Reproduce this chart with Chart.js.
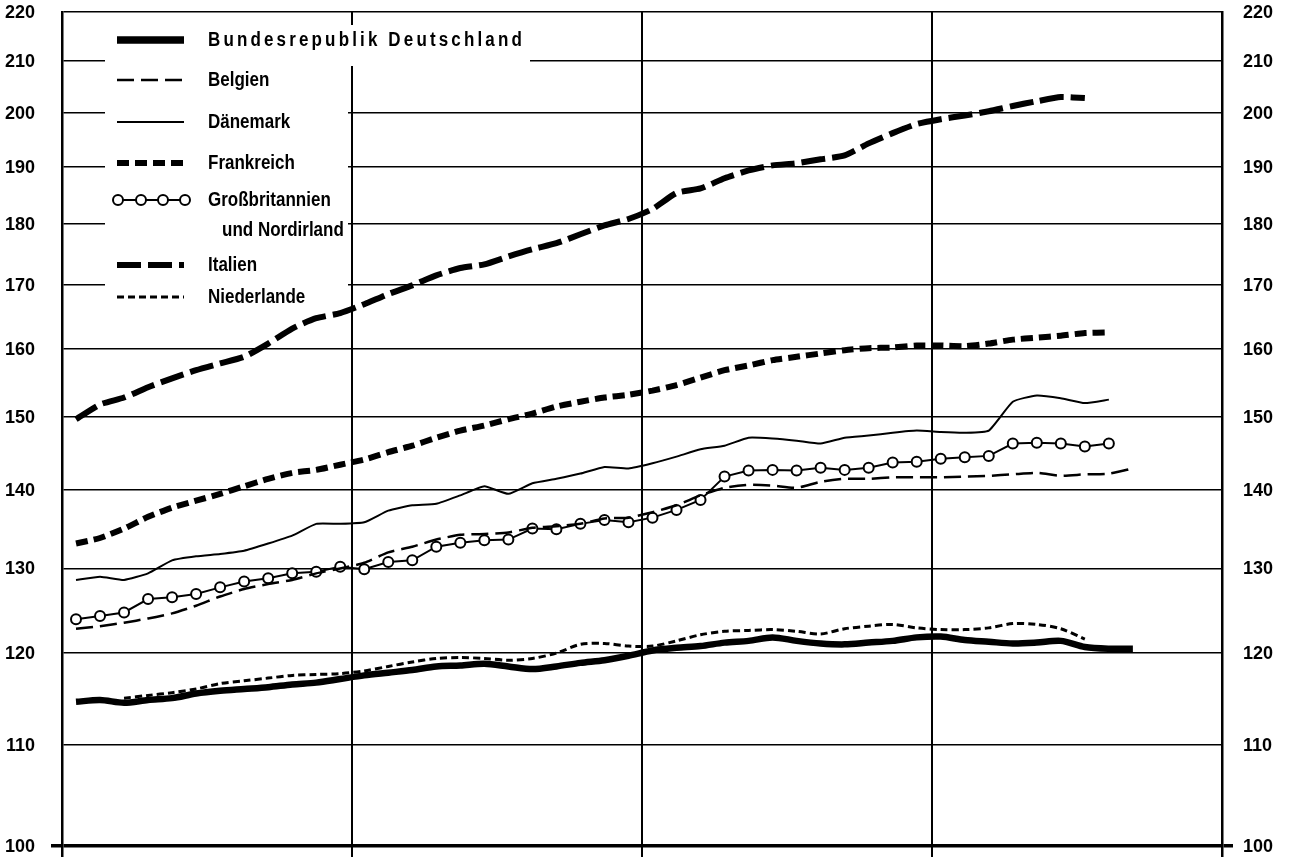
<!DOCTYPE html>
<html>
<head>
<meta charset="utf-8">
<script src="https://cdn.jsdelivr.net/npm/chart.js@4/dist/chart.umd.min.js"></script>
<style>
  html, body { margin: 0; padding: 0; background: #fff; overflow: hidden; }
  #wrap { width: 1289px; height: 865px; position: relative; }
</style>
</head>
<body>
<div id="wrap"><canvas id="c"></canvas></div>
<script>
// ---- data (monthly index values) ----
const yTicks = [100, 110, 120, 130, 140, 150, 160, 170, 180, 190, 200, 210, 220];

const seriesNames = ["Bundesrepublik Deutschland", "Belgien", "Dänemark", "Frankreich",
                     "Großbritannien", "Italien", "Niederlande"];
const gbSecondLine = "und Nordirland";

const deutschland = [114.6,114.8,114.5,114.8,115.0,115.5,115.8,116.0,116.2,116.5,
                     116.7,117.1,117.5,117.8,118.1,118.5,118.6,118.8,118.5,118.2,
                     118.5,118.9,119.2,119.7,120.3,120.6,120.8,121.2,121.4,121.8,
                     121.4,121.1,121.0,121.2,121.4,121.8,121.9,121.5,121.3,121.1,
                     121.2,121.4,120.7,120.5,120.5];

const belgien = [122.8,123.1,123.5,124.0,124.6,125.5,126.6,127.5,128.1,128.6,
                 129.4,130.0,130.7,132.0,132.7,133.6,134.2,134.3,134.5,135.1,
                 135.3,135.6,136.3,136.4,137.1,138.0,139.3,140.3,140.7,140.6,
                 140.3,141.1,141.5,141.5,141.7,141.7,141.7,141.8,141.9,142.1,
                 142.3,141.9,142.1,142.2,142.9];

const daenemark = [128.6,129.0,128.6,129.4,131.0,131.5,131.8,132.2,133.1,134.1,
                   135.6,135.6,135.8,137.3,138.0,138.2,139.3,140.5,139.5,140.9,
                   141.5,142.2,143.1,142.9,143.6,144.5,145.5,146.0,147.1,147.0,
                   146.7,146.3,147.1,147.4,147.8,148.1,147.9,147.8,148.1,152.2,
                   153.1,152.7,152.0,152.5];

const frankreich = [133.1,133.8,135.0,136.5,137.7,138.6,139.5,140.5,141.5,142.3,
                    142.7,143.4,144.1,145.1,146.0,147.1,148.1,148.8,149.7,150.5,
                    151.5,152.2,152.8,153.2,153.8,154.6,155.7,156.8,157.5,158.3,
                    158.8,159.3,159.8,160.1,160.2,160.5,160.5,160.4,160.8,161.4,
                    161.7,162.0,162.4,162.5];

const grossbritannien = [123.9,124.3,124.7,126.3,126.5,126.9,127.7,128.4,128.8,129.4,
                         129.6,130.2,129.9,130.8,131.0,132.7,133.2,133.5,133.6,135.0,
                         134.9,135.6,136.1,135.8,136.4,137.4,138.7,141.8,142.6,142.7,
                         142.6,143.0,142.7,143.0,143.7,143.8,144.2,144.4,144.6,146.3,
                         146.4,146.3,145.9,146.3];

const italien = [149.7,151.8,152.8,154.3,155.6,156.8,157.8,158.8,160.8,163.1,
                 164.7,165.5,166.9,168.5,169.9,171.5,172.7,173.3,174.6,175.8,
                 176.8,178.3,179.8,180.9,182.6,185.4,186.2,188.0,189.4,190.3,
                 190.7,191.4,192.1,194.3,196.2,197.9,198.8,199.5,200.3,201.3,
                 202.2,203.0,202.8];

const niederlande = [null,null,115.0,115.3,115.6,116.0,116.6,116.9,117.2,117.5,
                     117.6,117.7,118.0,118.5,119.0,119.4,119.5,119.4,119.2,119.4,
                     120.0,121.0,121.1,120.8,120.8,121.4,122.1,122.5,122.6,122.7,
                     122.5,122.2,122.8,123.1,123.3,122.9,122.7,122.7,122.9,123.4,
                     123.3,122.8,121.6];

// ---- styles ----
const FONT = "'Liberation Sans', Arial, sans-serif";
const toPts = arr => arr.map((v, i) => ({ x: i, y: v }));

const styles = [
  { data: deutschland,     borderWidth: 6.5, borderDash: [],       tension: 0.3 },
  { data: belgien,         borderWidth: 2.5, borderDash: [17, 7],  tension: 0.2 },
  { data: daenemark,       borderWidth: 2,   borderDash: [],       tension: 0.15 },
  { data: frankreich,      borderWidth: 6,   borderDash: [12, 6],  tension: 0.2 },
  { data: grossbritannien, borderWidth: 2,   borderDash: [],       tension: 0, points: true },
  { data: italien,         borderWidth: 6,   borderDash: [24, 7],  tension: 0.2 },
  { data: niederlande,     borderWidth: 3,   borderDash: [7, 4],   tension: 0.3 }
];

const datasets = styles.map((s, k) => ({
  label: seriesNames[k],
  data: toPts(s.data),
  borderColor: '#000',
  backgroundColor: '#fff',
  borderWidth: s.borderWidth,
  borderDash: s.borderDash,
  tension: s.tension,
  borderCapStyle: 'butt',
  spanGaps: false,
  pointRadius: s.points ? 5 : 0,
  pointBorderWidth: 2,
  pointBorderColor: '#000',
  pointBackgroundColor: '#fff',
  fill: false
}));

function narrowText(c, text, x, y, sx, spacing) {
  c.save();
  c.translate(x, y);
  c.scale(sx, 1);
  if (spacing) c.letterSpacing = spacing;
  c.fillText(text, 0, 0);
  c.restore();
}

// ---- legend box drawn inside the plot + axis labels ----
const legendPlugin = {
  id: 'boxLegend',
  beforeDatasetsDraw(chart) {
    const c = chart.ctx;
    c.save();
    c.fillStyle = '#fff';
    c.fillRect(105, 25, 425, 41);
    c.fillRect(105, 25, 243, 280);
    c.restore();
  },
  afterDatasetsDraw(chart) {
    const c = chart.ctx;
    const rows = [40, 80, 122, 163, 200, 265, 297];
    c.save();
    c.fillStyle = '#000';
    c.strokeStyle = '#000';
    c.textBaseline = 'middle';
    c.textAlign = 'left';
    c.font = 'bold 20px ' + FONT;
    styles.forEach((s, k) => {
      const y = rows[k];
      c.lineWidth = s.borderWidth + (k === 0 ? 1 : 0);
      c.setLineDash(s.borderDash);
      c.lineCap = 'butt';
      c.beginPath();
      c.moveTo(117, y);
      c.lineTo(184, y);
      c.stroke();
      if (s.points) {
        c.setLineDash([]);
        [118, 141, 163, 185].forEach(px => {
          c.beginPath();
          c.arc(px, y, 5, 0, Math.PI * 2);
          c.fillStyle = '#fff';
          c.fill();
          c.lineWidth = 2;
          c.stroke();
        });
        c.fillStyle = '#000';
      }
      c.setLineDash([]);
      if (k === 0) {
        narrowText(c, seriesNames[k], 208, y, 0.85, '3.7px');
      } else {
        narrowText(c, seriesNames[k], 208, y, 0.85);
      }
      if (k === 4) narrowText(c, gbSecondLine, 222, 230, 0.85);
    });
    c.restore();
  },
  afterDraw(chart) {
    const c = chart.ctx;
    const ys = chart.scales.y;
    c.save();
    c.fillStyle = '#000';
    c.font = 'bold 18px ' + FONT;
    c.textBaseline = 'middle';
    yTicks.forEach(v => {
      const py = ys.getPixelForValue(v);
      c.textAlign = 'right';
      c.fillText(String(v), 35, py + 1);
      c.textAlign = 'left';
      c.fillText(String(v), 1243, py + 1);
    });
    c.restore();
  }
};

const is100 = ctx => ctx.tick && ctx.tick.value === 100;

const yAxis = (pos, width, onArea) => ({
  type: 'logarithmic',
  position: pos,
  min: 98.87,
  max: 220,
  afterBuildTicks: s => { s.ticks = yTicks.map(v => ({ value: v })); },
  afterFit: s => { s.width = width; },
  grid: {
    drawOnChartArea: onArea,
    color: '#000',
    lineWidth: ctx => is100(ctx) ? 3.5 : 1.6,
    drawTicks: true,
    tickLength: 11,
    tickColor: ctx => is100(ctx) ? '#000' : 'rgba(0,0,0,0)',
    tickWidth: 3.5
  },
  border: { display: true, color: '#000', width: 2.5 },
  ticks: { display: false }
});

new Chart(document.getElementById('c'), {
  type: 'line',
  data: { datasets },
  options: {
    responsive: true,
    maintainAspectRatio: false,
    animation: false,
    events: [],
    layout: { padding: { top: 12, bottom: 0, left: 0, right: 0 } },
    plugins: { legend: { display: false }, tooltip: { enabled: false } },
    scales: {
      x: {
        type: 'linear',
        min: -0.583,
        max: 47.71,
        afterBuildTicks: s => { s.ticks = [0, 1, 2, 3, 4].map(k => ({ value: s.min + k * (s.max - s.min) / 4 })); },
        afterFit: s => { s.height = 0; },
        ticks: { display: false },
        grid: { color: '#000', lineWidth: 2, drawTicks: false },
        border: { display: false }
      },
      y: yAxis('left', 62, true),
      y2: yAxis('right', 67, false)
    }
  },
  plugins: [legendPlugin]
});
</script>
</body>
</html>
